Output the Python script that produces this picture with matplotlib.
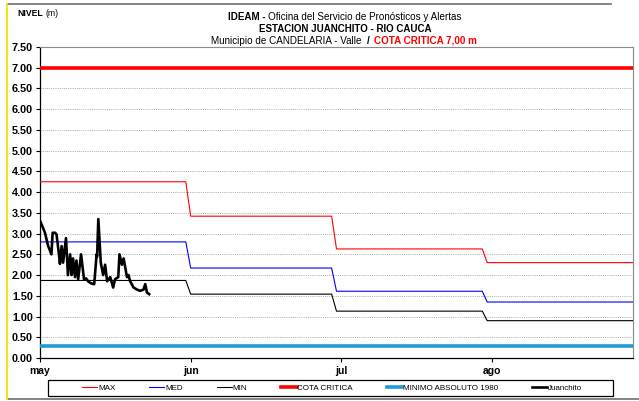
import matplotlib
matplotlib.use("Agg")
import matplotlib.pyplot as plt
import numpy as np
from matplotlib.lines import Line2D
from matplotlib.patches import Rectangle

plt.rcParams['font.family'] = ['Liberation Sans', 'DejaVu Sans']

# ==========================
# Datos
# ==========================
meses = ["may", "jun", "jul", "ago"]
dias_mes = [31, 30, 31, 31]
nivel_max = [4.25, 3.42, 2.63, 2.30]
nivel_med = [2.80, 2.17, 1.61, 1.35]
nivel_min = [1.87, 1.54, 1.13, 0.90]
cota_critica = 7.00
minimo_1980 = 0.28

juanchito_dia = [0.0, 0.4, 1.0, 1.65, 2.35, 2.6, 3.1, 3.4, 3.9, 4.1, 4.45, 4.75,
                 5.35, 5.75, 6.2, 6.5, 6.8, 7.2, 7.5, 7.85, 8.45, 9.05, 9.5, 9.9,
                 10.5, 11.15, 11.65, 11.75, 12.0, 12.5, 13.0, 13.4, 13.8, 14.45,
                 15.05, 15.45, 16.1, 16.35, 16.85, 17.2, 17.9, 18.2, 18.55, 19.25,
                 19.95, 20.6, 21.3, 21.65, 22.0, 22.45]
juanchito_nivel = [3.31, 3.20, 3.03, 2.71, 2.50, 3.02, 3.02, 2.98, 2.50, 2.27, 2.70, 2.30,
                   2.89, 2.00, 2.50, 2.00, 2.40, 1.95, 2.35, 1.90, 2.50, 1.90, 1.92, 1.85,
                   1.80, 1.78, 2.50, 2.45, 3.35, 2.30, 2.00, 2.25, 1.85, 1.95,
                   1.70, 1.90, 1.95, 2.50, 2.25, 2.40, 1.95, 2.00, 1.85, 1.70,
                   1.65, 1.62, 1.65, 1.78, 1.58, 1.54]

# series diarias a partir de los valores mensuales
dias = np.arange(sum(dias_mes))
serie_max = np.repeat(nivel_max, dias_mes)
serie_med = np.repeat(nivel_med, dias_mes)
serie_min = np.repeat(nivel_min, dias_mes)
ticks_mes = [0, 31, 62, 93]

# ==========================
# Figura
# ==========================
W, H = 639, 401
fig = plt.figure(figsize=(W/100, H/100), dpi=100)
ax = fig.add_axes([40/W, 1-358/H, (633-40)/W, (358-47)/H])

ax.plot(dias, serie_max, color="#ff0000", lw=0.8, label="MAX", zorder=3)
ax.plot(dias, serie_med, color="#0000ff", lw=0.8, label="MED", zorder=3)
ax.plot(dias, serie_min, color="black", lw=0.8, label="MIN", zorder=3)
ax.plot([0, dias[-1]], [cota_critica, cota_critica], color="#ff0000", lw=2.6,
        label="COTA CRITICA", zorder=3)
ax.plot([0, dias[-1]], [minimo_1980, minimo_1980], color="#1e9cd7", lw=2.6,
        label="MINIMO ABSOLUTO 1980", zorder=3)
ax.plot(juanchito_dia, juanchito_nivel, color="black", lw=1.9,
        label="Juanchito", zorder=4)

ax.set_xlim(0, dias[-1])
ax.set_ylim(0, 7.5)
ax.set_yticks(np.arange(0, 7.51, 0.5))
ax.set_yticklabels([f"{v:.2f}" for v in np.arange(0, 7.51, 0.5)],
                   fontsize=7.8, fontweight="bold")
ax.set_xticks(ticks_mes)
ax.set_xticklabels(meses, fontsize=7.5, fontweight="bold")
ax.tick_params(axis="y", length=3, pad=2, width=0.8)
ax.tick_params(axis="x", length=3, pad=3, width=0.8)

for v in np.arange(0.5, 7.51, 0.5):
    ax.axhline(v, color="#ababab", lw=0.7, ls=(0, (1, 1.2)), zorder=1)

ax.spines["left"].set_color("black")
ax.spines["bottom"].set_color("black")
ax.spines["left"].set_linewidth(0.9)
ax.spines["bottom"].set_linewidth(0.9)
ax.spines["top"].set_color("#8a8a8a")
ax.spines["right"].set_color("#8a8a8a")
ax.spines["top"].set_linewidth(0.8)
ax.spines["right"].set_linewidth(0.8)

# Leyenda (caja dibujada aparte)
handles, labels = ax.get_legend_handles_labels()
handles = [Line2D([], [], color=h.get_color(), lw=min(h.get_linewidth(), 2.6)) for h in handles]
leg = fig.legend(handles, labels, loc="center",
                 bbox_to_anchor=(332/W, 1-388/H),
                 ncol=6, fontsize=5.8, handlelength=1.9,
                 handletextpad=0.1, columnspacing=4.2, borderaxespad=0,
                 frameon=False, borderpad=0)
fig.add_artist(Rectangle((48/W, 1-396/H), (613-48)/W, 16/H, transform=fig.transFigure,
                         facecolor="none", edgecolor="black", lw=0.9))

# Marco exterior
fig.add_artist(Line2D([7/W, 611/W], [1-4/H, 1-4/H], color="#707070", lw=1.2,
                      transform=fig.transFigure))
fig.add_artist(Line2D([7/W, 1], [1-399/H, 1-399/H], color="#707070", lw=1.2,
                      transform=fig.transFigure))
fig.add_artist(Line2D([7/W, 7/W], [1-4/H, 1-399/H], color="#f2e600", lw=1.4,
                      transform=fig.transFigure))

# Titulos con partes en negrita / color
renderer = fig.canvas.get_renderer()


def linea_titulo(partes, xc, y, size, hueco=2.5):
    textos = []
    for txt, peso, color in partes:
        t = fig.text(0, 1 - y/H, txt, fontsize=size, fontweight=peso, color=color,
                     va="baseline", ha="left")
        textos.append(t)
    anchos = [t.get_window_extent(renderer).width for t in textos]
    total = sum(anchos) + hueco * (len(anchos) - 1)
    x = xc - total / 2
    for t, w in zip(textos, anchos):
        t.set_x(x / W)
        x += w + hueco


linea_titulo([("IDEAM -", "bold", "black"),
              ("Oficina del Servicio de Pronósticos y Alertas", "normal", "black")],
             345, 19.5, 7.1)
linea_titulo([("ESTACION JUANCHITO - RIO CAUCA", "bold", "black")],
             345, 31.5, 7.0)
linea_titulo([("Municipio de CANDELARIA - Valle", "normal", "black"),
              ("/", "bold", "black"),
              ("COTA CRITICA 7,00 m", "bold", "#ff0000")],
             344, 43.5, 7.1, hueco=5)
linea_titulo([("NIVEL", "bold", "black"), ("(m)", "normal", "black")],
             38, 16, 6.2, hueco=1.5)

fig.savefig("out.png", dpi=100)
